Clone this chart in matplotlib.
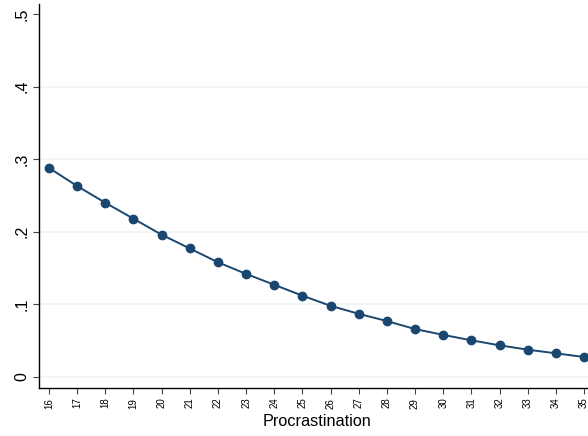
import matplotlib
matplotlib.use("Agg")
import matplotlib.pyplot as plt

plt.rcParams['font.family'] = ['Liberation Sans', 'DejaVu Sans']

procrastination = list(range(16, 36))
prob = [0.288, 0.263, 0.240, 0.218, 0.196, 0.177, 0.158, 0.142, 0.127, 0.112,
        0.098, 0.087, 0.077, 0.066, 0.058, 0.0505, 0.0436, 0.0376, 0.0326, 0.0275]
yticks = [0, 0.1, 0.2, 0.3, 0.4, 0.5]
ytick_labels = ["0", ".1", ".2", ".3", ".4", ".5"]

fig = plt.figure(figsize=(5.88, 4.36), dpi=100)
W, H = 588, 436
left, right, bottom, top = 39, 588, 388, 4
ax = fig.add_axes([left / W, 1 - bottom / H, (right - left) / W, (bottom - top) / H])

for yv in yticks[:-1]:
    ax.axhline(yv, color="#eef3f4", lw=1.2, zorder=0)

ax.plot(procrastination, prob, color="#1a476f", lw=1.4, marker="o",
        markersize=6, markerfacecolor="#1a476f", markeredgecolor="#1a476f", zorder=3,
        clip_on=False)

ax.set_xlim(15.645, 35.142)
ax.set_ylim(-0.0152, 0.5138)
ax.set_xticks(procrastination)
ax.set_xticklabels([str(v) for v in procrastination], rotation=90, fontsize=7)
ax.set_yticks(yticks)
ax.set_yticklabels(ytick_labels, rotation=90, fontsize=11.5, va="center")
ax.tick_params(axis="both", direction="out", length=4, width=0.8, color="#444444", pad=3)
ax.set_xlabel("Procrastination", fontsize=11.7)
ax.xaxis.set_label_coords((317 - left) / (right - left), -(421 - bottom) / (bottom - top))
ax.xaxis.label.set_va("center")

for s in ["top", "right"]:
    ax.spines[s].set_visible(False)
for s in ["left", "bottom"]:
    ax.spines[s].set_linewidth(1.0)
    ax.spines[s].set_color("black")

fig.savefig("out.png", dpi=100)
